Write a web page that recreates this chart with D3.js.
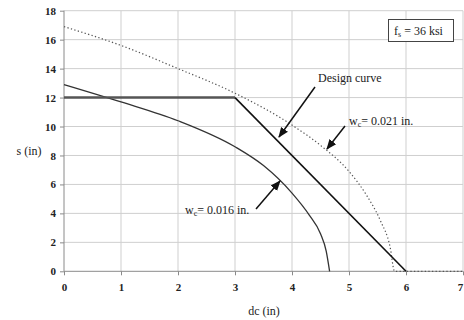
<html>
<script src="https://d3js.org/d3.v7.min.js"></script>
<style>
  body { margin: 0; background: white; }
  text { font-family: "Liberation Serif", "DejaVu Serif", serif; fill: #222; }
  .tick text { font-size: 11px; font-weight: bold; }
  .grid line { stroke: #cfcfcf; stroke-width: 1; }
</style>
<body>
<svg width="464" height="320"></svg>
<script>
// values
var xTicks = [0, 1, 2, 3, 4, 5, 6, 7];
var yTicks = [0, 2, 4, 6, 8, 10, 12, 14, 16, 18];

var designX = [0, 3, 6];
var designY = [12, 12, 0];

var w016X = [0, 1, 2, 3, 3.5, 4, 4.3, 4.5, 4.6, 4.66];
var w016Y = [12.9, 11.7, 10.4, 8.6, 7.3, 5.4, 3.9, 2.6, 1.4, 0];

var w021X = [0, 1, 2, 3, 4, 4.5, 5, 5.3, 5.55, 5.72, 5.8, 6, 7];
var w021Y = [16.9, 15.6, 14.0, 12.3, 10.1, 8.7, 6.9, 5.3, 3.5, 1.7, 0, 0, 0];

var svg = d3.select("svg");
var x = d3.scaleLinear().domain([0, 7]).range([64, 463]);
var y = d3.scaleLinear().domain([0, 18]).range([271.3, 10.7]);

// grid
var grid = svg.append("g").attr("class", "grid");
grid.selectAll(".v").data(xTicks.slice(1)).enter().append("line")
  .attr("x1", d => x(d)).attr("x2", d => x(d))
  .attr("y1", y(0)).attr("y2", y(18));
grid.selectAll(".h").data(yTicks.slice(1)).enter().append("line")
  .attr("x1", x(0)).attr("x2", x(7))
  .attr("y1", d => y(d)).attr("y2", d => y(d));

// axes
var xAxis = d3.axisBottom(x).tickValues(xTicks).tickFormat(d3.format("d")).tickSize(4).tickPadding(8);
var yAxis = d3.axisLeft(y).tickValues(yTicks).tickFormat(d3.format("d")).tickSize(4).tickPadding(4);
svg.append("g").attr("transform", "translate(0," + y(0) + ")").call(xAxis)
  .call(g => g.selectAll("line, path").attr("stroke", "#8a8a8a"))
  .call(g => g.select(".domain").attr("d", "M" + x(0) + ",0H" + x(7)))
  .call(g => g.selectAll(".tick text").filter(d => d === 7).attr("dx", -3));
svg.append("g").attr("transform", "translate(" + x(0) + ",0)").call(yAxis)
  .call(g => g.selectAll("line, path").attr("stroke", "#8a8a8a"))
  .call(g => g.select(".domain").attr("d", "M0," + y(0) + "V" + y(18)));

svg.append("text").attr("x", 264).attr("y", 315).attr("text-anchor", "middle")
  .style("font-size", "12px").text("dc (in)");
svg.append("text").attr("x", 29).attr("y", 155).attr("text-anchor", "middle")
  .style("font-size", "12px").text("s (in)");

var line = d3.line().x(d => x(d[0])).y(d => y(d[1]));
var smooth = d3.line().curve(d3.curveMonotoneX).x(d => x(d[0])).y(d => y(d[1]));

svg.append("path").datum(d3.zip(w021X, w021Y)).attr("d", smooth)
  .attr("fill", "none").attr("stroke", "#555").attr("stroke-width", 1.2)
  .attr("stroke-dasharray", "1.3,2.3");

svg.append("path").datum(d3.zip(w016X, w016Y)).attr("d", smooth)
  .attr("fill", "none").attr("stroke", "#333").attr("stroke-width", 1.3);

svg.append("path").datum(d3.zip(designX.slice(0, 2), designY.slice(0, 2))).attr("d", line)
  .attr("fill", "none").attr("stroke", "#555").attr("stroke-width", 2.4);
svg.append("path").datum(d3.zip(designX.slice(1), designY.slice(1))).attr("d", line)
  .attr("fill", "none").attr("stroke", "#111").attr("stroke-width", 1.6);

// arrows
svg.append("defs").append("marker").attr("id", "ah")
  .attr("viewBox", "0 0 10 10").attr("refX", 9).attr("refY", 5)
  .attr("markerWidth", 7).attr("markerHeight", 7).attr("orient", "auto")
  .append("path").attr("d", "M0,1L10,5L0,9z").attr("fill", "#111");

function arrow(x1, y1, x2, y2) {
  svg.append("line").attr("x1", x1).attr("y1", y1).attr("x2", x2).attr("y2", y2)
    .attr("stroke", "#111").attr("stroke-width", 1.5).attr("marker-end", "url(#ah)");
}
arrow(315, 87, 279, 137);
arrow(345, 126, 327, 149);
arrow(256, 209, 280, 181);

svg.append("text").attr("x", 318).attr("y", 82).style("font-size", "12px").text("Design curve");

var t1 = svg.append("text").attr("x", 349).attr("y", 125).style("font-size", "12px");
t1.append("tspan").text("w");
t1.append("tspan").attr("dy", 2).style("font-size", "8px").text("c");
t1.append("tspan").attr("dy", -2).text("= 0.021 in.");

var t2 = svg.append("text").attr("x", 185).attr("y", 214).style("font-size", "12px");
t2.append("tspan").text("w");
t2.append("tspan").attr("dy", 2).style("font-size", "8px").text("c");
t2.append("tspan").attr("dy", -2).text("= 0.016 in.");

// fs box
svg.append("rect").attr("x", 388.5).attr("y", 19.5).attr("width", 65).attr("height", 22)
  .attr("fill", "white").attr("stroke", "#444").attr("stroke-width", 1);
var t3 = svg.append("text").attr("x", 394).attr("y", 35).style("font-size", "12px");
t3.append("tspan").text("f");
t3.append("tspan").attr("dy", 2).style("font-size", "8px").text("s");
t3.append("tspan").attr("dy", -2).text(" = 36 ksi");
</script>
</body>
</html>
